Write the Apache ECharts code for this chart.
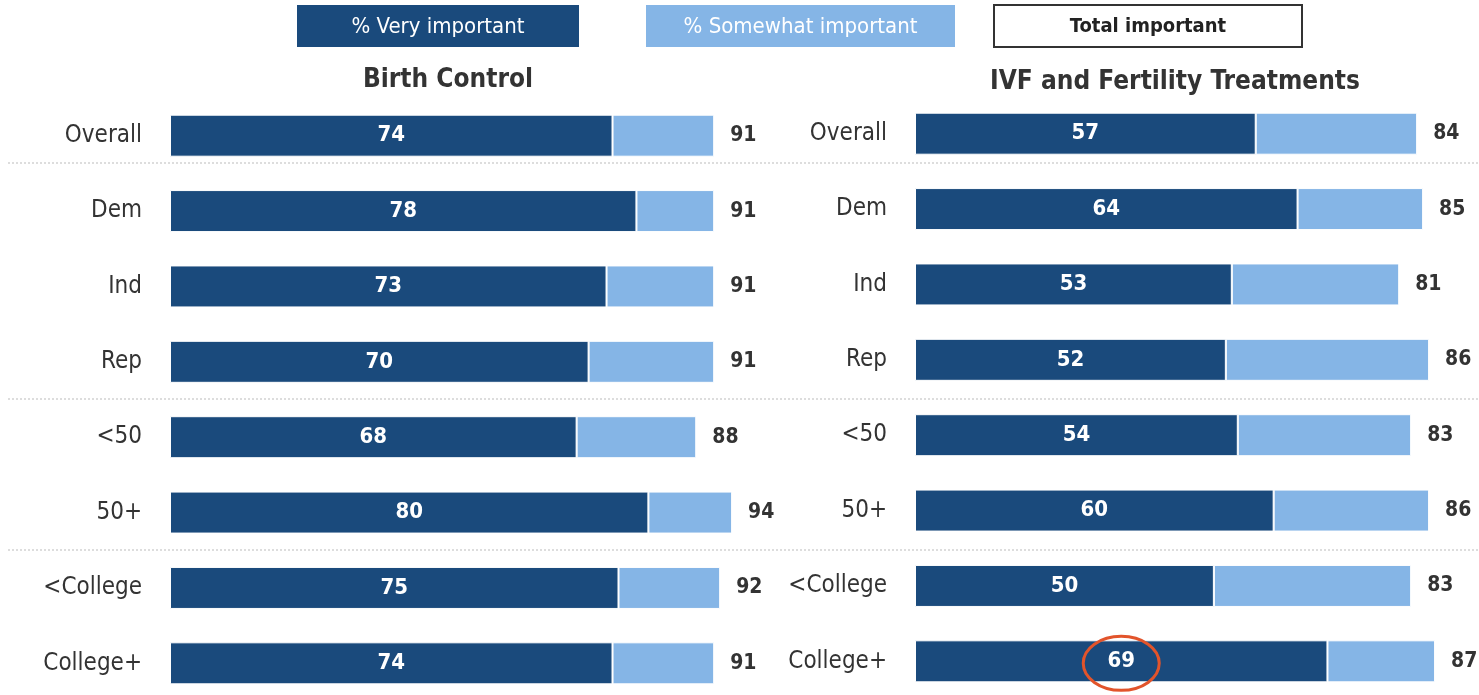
<!DOCTYPE html>
<html>
<head>
<meta charset="utf-8">
<script src="https://cdn.jsdelivr.net/npm/echarts@6/dist/echarts.min.js"></script>
<style>
  html, body { margin: 0; padding: 0; background: #fff; }
  #chart { width: 1479px; height: 695px; }
</style>
</head>
<body>
<div id="chart"></div>
<script>
// 数据
const groups = ['Overall', 'Dem', 'Ind', 'Rep', '<50', '50+', '<College', 'College+']
const birthVery = [74, 78, 73, 70, 68, 80, 75, 74]
const birthTotal = [91, 91, 91, 91, 88, 94, 92, 91]
const ivfVery = [57, 64, 53, 52, 54, 60, 50, 69]
const ivfTotal = [84, 85, 81, 86, 83, 86, 83, 87]
const panelTitles = ['Birth Control', 'IVF and Fertility Treatments']
const legendNames = ['% Very important', '% Somewhat important', 'Total important']

const FONT = '"DejaVu Sans Condensed", "Liberation Sans Narrow", Arial, sans-serif'
const DARK = '#1a4a7c'
const LIGHT = '#85b5e6'

const chart = echarts.init(document.getElementById('chart'), null, { renderer: 'canvas' })

const diff = (tot, very) => tot.map((t, i) => t - very[i])

// 每个面板两组堆叠柱
const makeSeries = (idx, very, total) => [
  {
    name: legendNames[0],
    type: 'bar',
    stack: 's' + idx,
    xAxisIndex: idx,
    yAxisIndex: idx,
    data: very,
    barWidth: 42,
    itemStyle: { color: DARK, borderColor: '#fff', borderWidth: 1 },
    label: {
      show: true, position: 'inside', color: '#fff',
      fontFamily: FONT, fontWeight: 'bold', fontSize: 22
    }
  },
  {
    name: legendNames[1],
    type: 'bar',
    stack: 's' + idx,
    xAxisIndex: idx,
    yAxisIndex: idx,
    data: diff(total, very),
    barWidth: 42,
    itemStyle: { color: LIGHT, borderColor: '#fff', borderWidth: 1 },
    label: {
      show: true, position: 'right', distance: 16, color: '#333',
      fontFamily: FONT, fontWeight: 'bold', fontSize: 21,
      formatter: p => total[p.dataIndex]
    }
  }
]

const makeY = idx => ({
  type: 'category',
  gridIndex: idx,
  data: groups,
  inverse: true,
  axisLine: { show: false },
  axisTick: { show: false },
  axisLabel: { color: '#333', fontFamily: FONT, fontSize: 24, margin: 28 }
})

// 两个面板刻度一致：约 5.98 px / 单位
const makeX = (idx, max) => ({
  type: 'value', gridIndex: idx, min: 0, max: max,
  show: false, splitLine: { show: false }
})

const option = {
  animation: false,
  title: [
    { text: panelTitles[0], left: 443, top: 62, textAlign: 'center',
      textStyle: { fontFamily: FONT, fontSize: 26, fontWeight: 'bold', color: '#333' } },
    { text: panelTitles[1], left: 1170, top: 64, textAlign: 'center',
      textStyle: { fontFamily: FONT, fontSize: 26, fontWeight: 'bold', color: '#333' } }
  ],
  grid: [
    { left: 170, top: 98, width: 598, height: 603, outerBoundsMode: 'none' },
    { left: 915, top: 96, width: 538, height: 603, outerBoundsMode: 'none' }
  ],
  xAxis: [makeX(0, 100), makeX(1, 90)],
  yAxis: [makeY(0), makeY(1)],
  series: [...makeSeries(0, birthVery, birthTotal), ...makeSeries(1, ivfVery, ivfTotal)]
}

chart.setOption(option)

// 图例框、分隔虚线、红圈标注
const sepY = [163, 399, 550]
const hl = chart.convertToPixel({ xAxisIndex: 1, yAxisIndex: 1 }, [ivfVery[7] / 2, 7])

const legendBox = (x, w, fill, stroke, text, color, bold, size) => ({
  type: 'group',
  children: [
    { type: 'rect', shape: { x: x, y: 5, width: w, height: 42 },
      style: { fill: fill, stroke: stroke, lineWidth: stroke ? 2 : 0 } },
    { type: 'text', x: x + w / 2, y: 27,
      style: { text: text, fill: color, align: 'center', verticalAlign: 'middle',
        font: (bold ? 'bold ' : '') + size + 'px ' + FONT } }
  ]
})

chart.setOption({
  graphic: [
    legendBox(297, 282, DARK, null, legendNames[0], '#fff', false, 22),
    legendBox(646, 309, LIGHT, null, legendNames[1], '#fff', false, 22),
    legendBox(994, 308, '#fff', '#333', legendNames[2], '#222', true, 20),
    ...sepY.map(y => ({
      type: 'line', shape: { x1: 8, y1: y, x2: 1479, y2: y },
      style: { stroke: '#bbb', lineWidth: 1, lineDash: [2, 2] }
    })),
    { type: 'ellipse', shape: { cx: hl[0], cy: hl[1] + 2, rx: 38, ry: 27 },
      style: { fill: 'none', stroke: '#e2542b', lineWidth: 3 }, z: 100 }
  ]
})
</script>
</body>
</html>
